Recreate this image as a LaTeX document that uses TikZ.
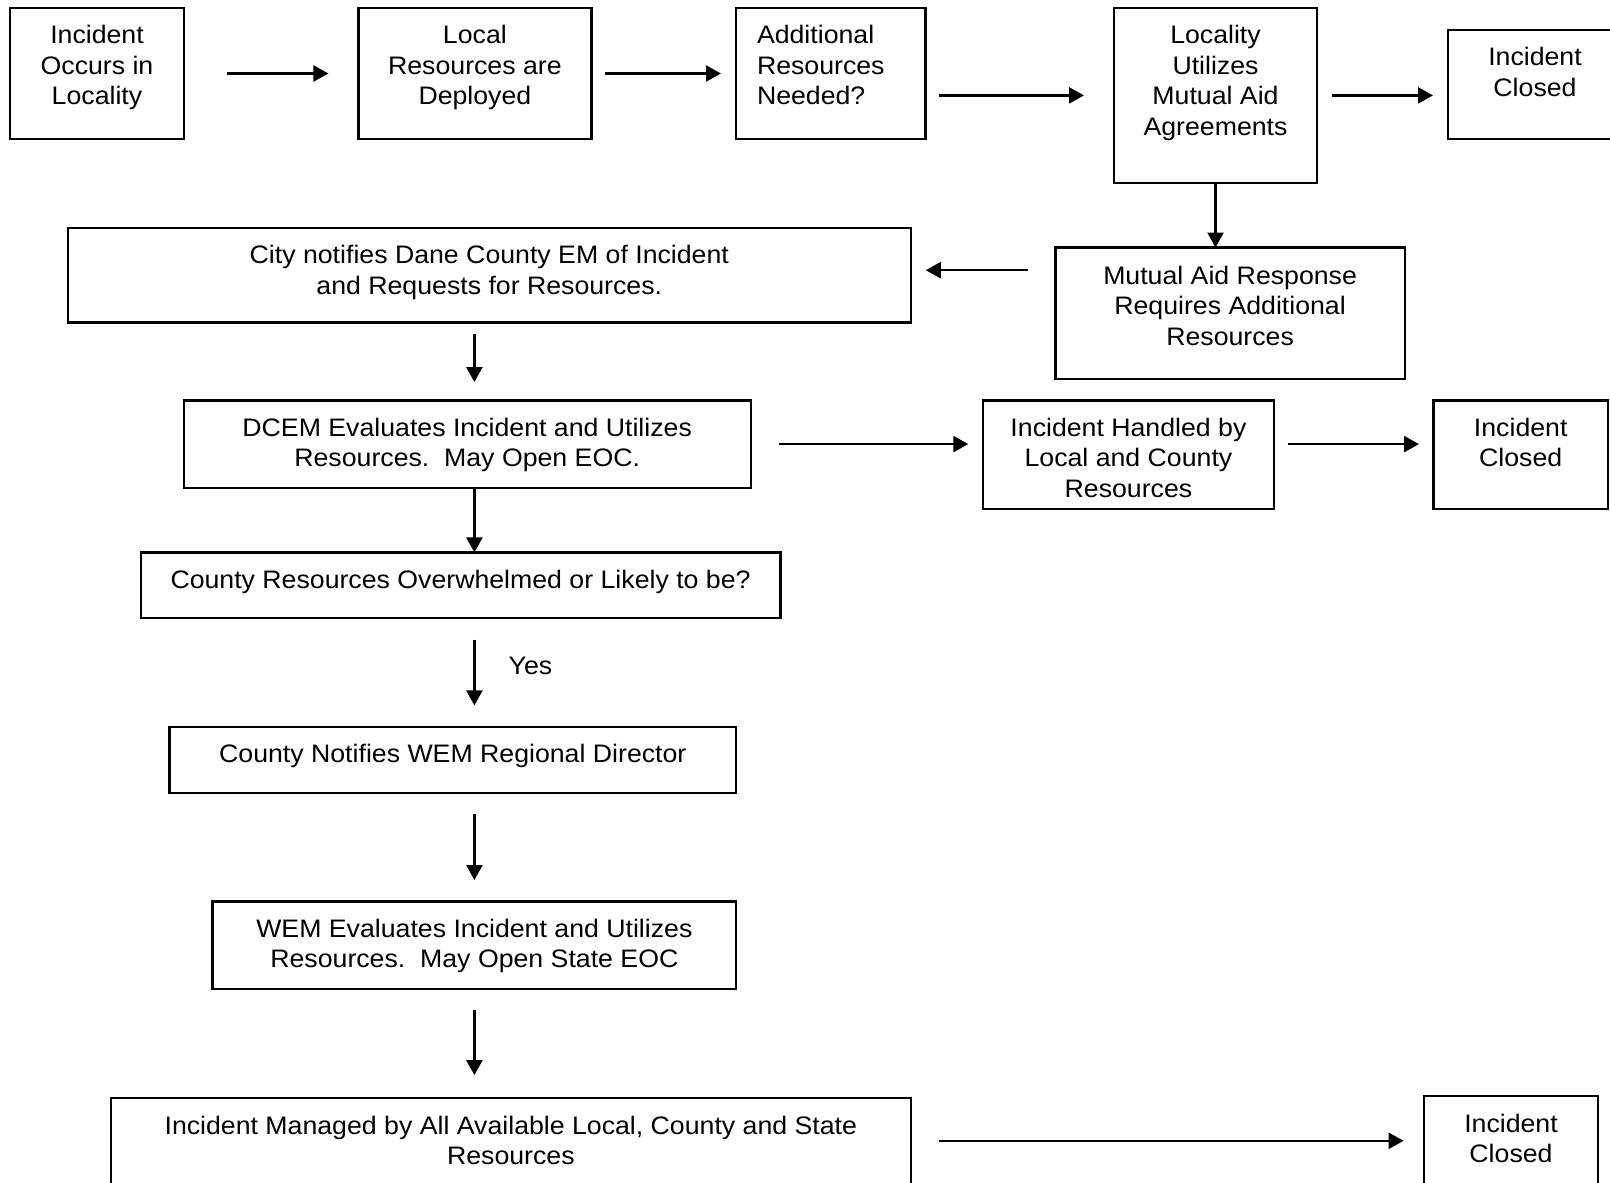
\documentclass[tikz,border=0pt]{standalone}
\usepackage{fontspec}
\setmainfont{Liberation Sans}[FakeStretch=1.055]
\usetikzlibrary{arrows.meta}
\newcommand\mybox[5]{\node[box, minimum width={#4-#2}, minimum height={#5-#3}] (#1) at ({(#2+#4)/2},{(#3+#5)/2}) {};}
\begin{document}
\begin{tikzpicture}[x=1pt,y=-1pt,
  box/.style={draw, line width=2.2pt, inner sep=0pt, outer sep=0pt, rectangle},
  txt/.style={inner sep=0pt, outer sep=0pt, align=center, font=\fontsize{25.3}{30.5}\selectfont, anchor=north},
  arr/.style={line width=2.5pt, -{Triangle[length=15pt,width=16pt]}}]
\useasboundingbox (0,0) rectangle (1610,1183);
% boxes
\mybox{inc1}{10}{8}{184}{139}
\mybox{local}{358.4}{8}{591.4}{139}
\mybox{addl}{736}{8}{925.5}{139}
\mybox{mutual}{1114}{8}{1317}{182.8}
\mybox{closed1}{1448}{30}{1622}{139}
\mybox{maresp}{1055.5}{247.5}{1404.7}{378.9}
\mybox{city}{67.8}{228}{910.8}{322.4}
\mybox{dcem}{183.8}{400.5}{750.6}{487.7}
\mybox{handled}{982.6}{400.5}{1274.3}{509.3}
\mybox{closed2}{1433.4}{400.5}{1608}{509.3}
\mybox{county}{140.7}{552.4}{780.4}{618.1}
\mybox{notify}{169.4}{727}{736.2}{792.7}
\mybox{wem}{212.5}{901.5}{736.2}{988.8}
\mybox{managed}{110.9}{1097.6}{910.8}{1190}
\mybox{closed3}{1424}{1096}{1598}{1200}
% texts
\node[txt] (inc1t) at ([yshift=-17.5pt]inc1.north) {Incident\\Occurs in\\Locality};
\node[txt] (localt) at ([yshift=-17.5pt]local.north) {Local\\Resources are\\Deployed};
\node[txt, anchor=north west, align=left] (addlt) at ([xshift=21pt,yshift=-17.5pt]addl.north west) {Additional\\Resources\\Needed?};
\node[txt] (mutualt) at ([yshift=-17.5pt]mutual.north) {Locality\\Utilizes\\Mutual Aid\\Agreements};
\node[txt] (closed1t) at (1535,47.5) {Incident\\Closed};
\node[txt] (marespt) at ([yshift=-18.5pt]maresp.north) {Mutual Aid Response\\Requires Additional\\Resources};
\node[txt] (cityt) at ([yshift=-17.5pt]city.north) {City notifies Dane County EM of Incident\\and Requests for Resources.};
\node[txt] (dcemt) at ([yshift=-17.5pt]dcem.north) {DCEM Evaluates Incident and Utilizes\\Resources.\ \ May Open EOC.};
\node[txt] (handledt) at ([yshift=-17.5pt]handled.north) {Incident Handled by\\Local and County\\Resources};
\node[txt] (closed2t) at ([yshift=-17.5pt]closed2.north) {Incident\\Closed};
\node[txt] (countyt) at ([yshift=-18pt]county.north) {County Resources Overwhelmed or Likely to be?};
\node[txt] (notifyt) at ([yshift=-17.5pt]notify.north) {County Notifies WEM Regional Director};
\node[txt] (wemt) at ([yshift=-17.5pt]wem.north) {WEM Evaluates Incident and Utilizes\\Resources.\ \ May Open State EOC};
\node[txt] (managedt) at ([yshift=-18.5pt]managed.north) {Incident Managed by All Available Local, County and State\\Resources};
\node[txt] (closed3t) at ([yshift=-18pt]closed3.north) {Incident\\Closed};
\node[txt, anchor=center] (yes) at (530.5,666) {Yes};
% connectors
\coordinate (vx) at (474.4,0);
\coordinate (c1) at ([yshift=5pt]city.east);
\coordinate (c2) at ([yshift=3pt]managed.east);
\draw[arr, shorten <=43pt, shorten >=30pt] (inc1.east) -- (inc1.east -| local.west);
\draw[arr, shorten <=13.4pt, shorten >=15pt] (local.east) -- (local.east -| addl.west);
\draw[arr, shorten <=13.5pt, shorten >=30pt] (addl.east |- mutual.west) -- (mutual.west);
\draw[arr, shorten <=15pt, shorten >=15pt] (mutual.east) -- (closed1.west |- mutual.east);
\draw[arr] (mutual.south) -- (mutual.south |- maresp.north);
\draw[arr, shorten <=28pt, shorten >=15pt] (c1 -| maresp.west) -- (c1);
\draw[arr, shorten <=11.3pt, shorten >=18.5pt] (vx |- city.south) -- (vx |- dcem.north);
\draw[arr, shorten <=28.7pt, shorten >=14.3pt] (dcem.east) -- (dcem.east -| handled.west);
\draw[arr, shorten <=13.3pt, shorten >=14.4pt] (handled.east |- dcem.east) -- (closed2.west |- dcem.east);
\draw[arr] (vx |- dcem.south) -- (vx |- county.north);
\draw[arr, shorten <=21.6pt, shorten >=21.6pt] (vx |- county.south) -- (vx |- notify.north);
\draw[arr, shorten <=21.6pt, shorten >=21.5pt] (vx |- notify.south) -- (vx |- wem.north);
\draw[arr, shorten <=21.6pt, shorten >=22.5pt] (vx |- wem.south) -- (vx |- managed.north);
\draw[arr, shorten <=27.7pt, shorten >=20.4pt] (c2) -- (c2 -| closed3.west);
\end{tikzpicture}
\end{document}
